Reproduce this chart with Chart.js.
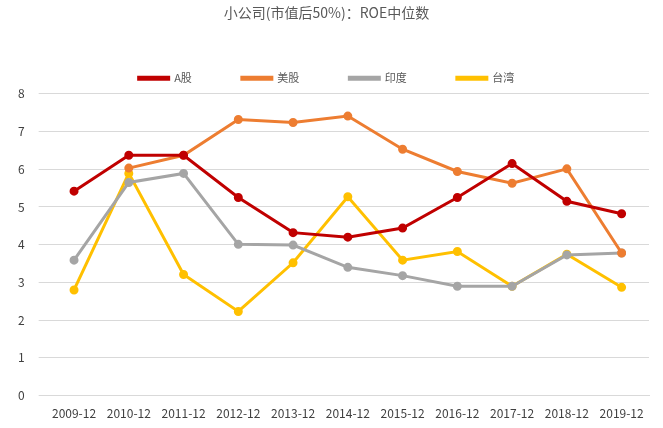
<!DOCTYPE html>
<html><head><meta charset="utf-8">
<script src="https://cdn.jsdelivr.net/npm/chart.js@4"></script>
<style>html,body{margin:0;background:#fff}#w{width:663px;height:428px}</style>
</head><body><div id="w"><canvas id="c"></canvas></div>
<script>
const categories=['2009-12','2010-12','2011-12','2012-12','2013-12','2014-12','2015-12','2016-12','2017-12','2018-12','2019-12'];
const aShares=[5.42,6.37,6.37,5.25,4.32,4.2,4.44,5.25,6.15,5.15,4.82];
const usShares=[null,6.03,6.37,7.32,7.24,7.41,6.53,5.94,5.63,6.01,3.78];
const india=[3.59,5.65,5.89,4.01,3.99,3.4,3.18,2.9,2.9,3.73,3.78];
const taiwan=[2.8,5.89,3.21,2.23,3.52,5.27,3.59,3.82,2.9,3.75,2.87];
const F='"Noto Sans CJK SC","Noto Sans",sans-serif';
function ds(label,data,color){return {label,data,borderColor:color,backgroundColor:color,borderWidth:3,pointRadius:3,pointHoverRadius:3,tension:0,spanGaps:false};}
new Chart(document.getElementById('c'),{type:'line',
data:{labels:categories,datasets:[ds('A股',aShares,'#C00000'),ds('美股',usShares,'#ED7D31'),ds('印度',india,'#A5A5A5'),ds('台湾',taiwan,'#FFC000')]},
options:{responsive:true,maintainAspectRatio:false,animation:false,
layout:{padding:{left:4,right:14,top:2,bottom:4}},
plugins:{title:{display:true,text:'小公司(市值后50%)：ROE中位数',color:'#595959',font:{family:F,size:14,weight:'normal'},padding:{top:2,bottom:2}},
legend:{labels:{color:'#595959',font:{family:F,size:11},boxWidth:30,boxHeight:2,padding:50}},tooltip:{enabled:false}},
scales:{x:{offset:true,grid:{display:false},border:{color:'#D9D9D9'},ticks:{color:'#404040',font:{family:F,size:12},maxRotation:0,autoSkip:false}},
y:{min:0,max:8,ticks:{stepSize:1,color:'#404040',font:{family:F,size:12},padding:14},grid:{color:'#D9D9D9'},border:{display:false}}}}});
</script></body></html>
